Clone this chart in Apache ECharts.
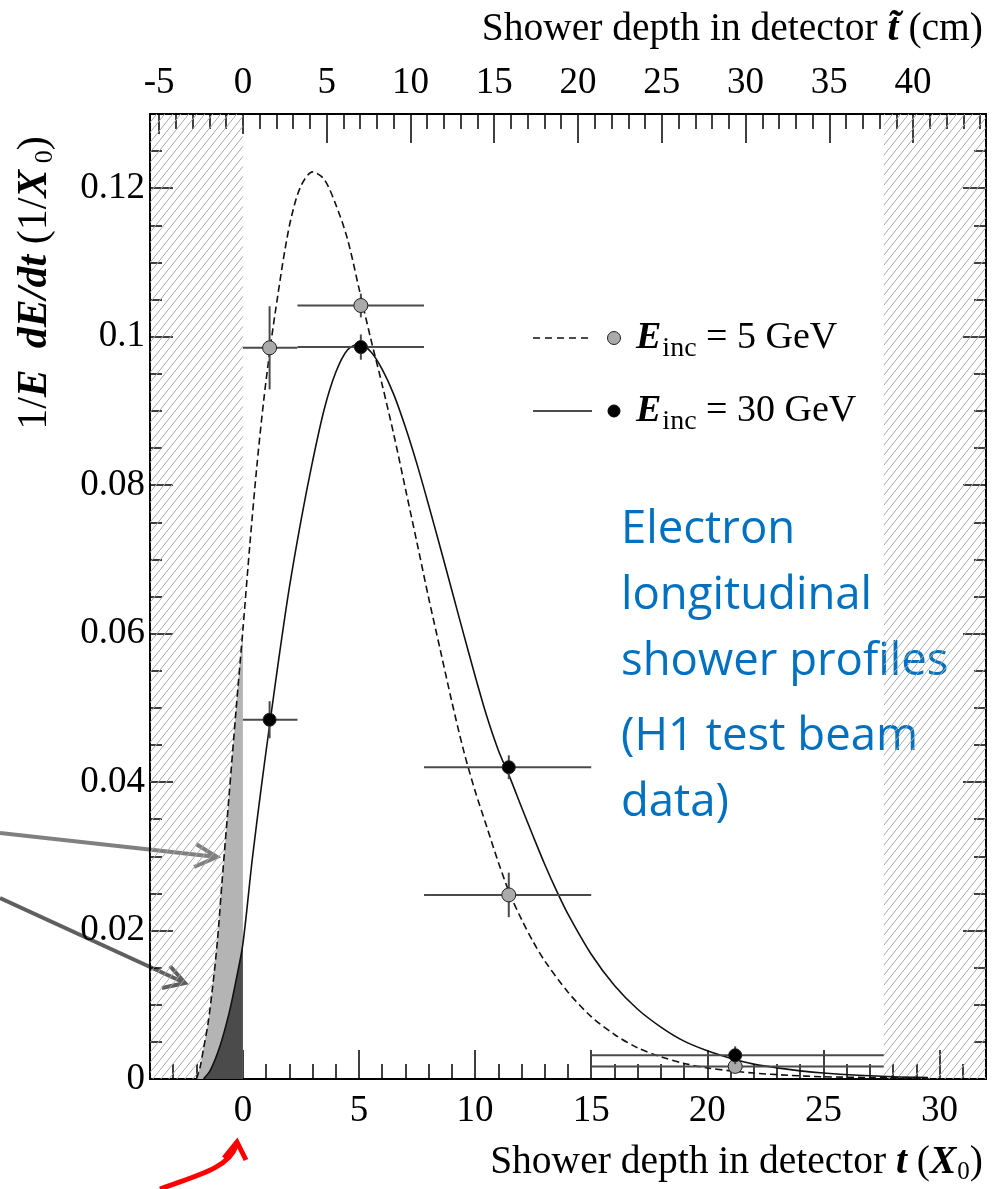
<!DOCTYPE html>
<html>
<head>
<meta charset="utf-8">
<title>Electron longitudinal shower profiles</title>
<script src="https://cdn.jsdelivr.net/npm/echarts@6/dist/echarts.min.js"></script>
<style>
html, body { margin: 0; padding: 0; background: #fff; }
#main { width: 993px; height: 1189px; }
</style>
</head>
<body>
<div id="main"></div>
<script>
// shower depth t (X0) -> 1/E dE/dt
var profile5 = [[-2.0, 0], [-1.85, 0.0015], [-1.7, 0.004], [-1.5, 0.0075], [-1.3, 0.0125], [-1.1, 0.0185],
    [-0.9, 0.0265], [-0.6, 0.038], [-0.3, 0.0495], [0, 0.0605], [0.3, 0.072], [0.6, 0.0825], [0.9, 0.0915],
    [1.2, 0.099], [1.5, 0.1055], [1.8, 0.1115], [2.1, 0.1163], [2.5, 0.1203], [3.0, 0.1222], [3.5, 0.1212],
    [4.0, 0.1178], [4.5, 0.1132], [5.0, 0.1065], [5.5, 0.0998], [6.0, 0.0935], [6.5, 0.0868], [7.0, 0.0795],
    [7.5, 0.0722], [8.0, 0.0648], [8.5, 0.0578], [9.0, 0.0508], [9.5, 0.0443], [10.0, 0.0388], [10.5, 0.034],
    [11.0, 0.0292], [11.5, 0.0249], [12.0, 0.0215], [12.5, 0.0185], [13.0, 0.0159], [14.0, 0.0117],
    [15.0, 0.0084], [16.0, 0.006], [17.0, 0.0042], [18.0, 0.003], [19.0, 0.0021], [20.0, 0.0015],
    [21.0, 0.0011], [22.0, 0.0008], [23.5, 0.0005], [25.0, 0.0003], [27.0, 0.0002], [29.5, 0.0001]];
var profile30 = [[-1.7, 0], [-1.4, 0.0012], [-1.0, 0.0043], [-0.6, 0.0088], [-0.3, 0.0132], [0, 0.0182],
    [0.4, 0.0295], [0.8, 0.0395], [1.2, 0.0488], [1.6, 0.0578], [2.0, 0.0662], [2.5, 0.0752], [3.0, 0.0832],
    [3.5, 0.0902], [4.0, 0.0952], [4.5, 0.0982], [5.0, 0.099], [5.5, 0.098], [6.0, 0.0956], [6.5, 0.0922],
    [7.0, 0.0878], [7.5, 0.0828], [8.0, 0.0773], [8.5, 0.0716], [9.0, 0.0658], [9.5, 0.06], [10.0, 0.0543],
    [10.5, 0.0489], [11.0, 0.0443], [11.5, 0.0406], [12.0, 0.0366], [12.5, 0.0327], [13.0, 0.0289],
    [13.5, 0.0254], [14.0, 0.0222], [15.0, 0.0168], [16.0, 0.0126], [17.0, 0.0094], [18.0, 0.007],
    [19.0, 0.0051], [20.0, 0.0038], [21.0, 0.0028], [22.0, 0.002], [23.0, 0.0015], [24.0, 0.0011],
    [25.0, 0.0008], [26.5, 0.0005], [28.0, 0.0003], [29.5, 0.0002]];

// test beam data points (bins in X0)
var binLo = [0, 2.35, 7.8, 15.0];
var binHi = [2.35, 7.8, 15.0, 27.6];
var pointT = [1.15, 5.08, 11.45, 21.2];
var data5 = [0.0985, 0.1042, 0.0248, 0.0017];
var err5 = [0.0056, 0.0016, 0.003, 0.0008];
var data30 = [0.0484, 0.0986, 0.042, 0.0032];
var err30 = [0.0025, 0.0017, 0.0016, 0.0012];

// dead material zones (hatched)
var deadZones = [[-4, 0], [27.6, 32]];

// axes
var xRange = [-4, 32];
var yRange = [0, 0.13];
var cmPerX0 = 1.386;
var xMajor = [0, 5, 10, 15, 20, 25, 30];
var yMajor = [0, 0.02, 0.04, 0.06, 0.08, 0.1, 0.12];
var cmLabels = [-5, 0, 5, 10, 15, 20, 25, 30, 35, 40];

var serif = "'Liberation Serif', 'Times New Roman', serif";

var xMinor = [], cmMinor = [], yMinor = [];
for (var i = -3; i <= 31; i++) { if (i % 5 !== 0) xMinor.push(i); }
for (var j = -5; j <= 44; j++) { if (j % 5 !== 0) cmMinor.push(j); }
for (var k = 1; k <= 26; k++) { if (k % 4 !== 0) yMinor.push(+(k * 0.005).toFixed(3)); }
var cmLong = cmLabels.filter(function (v) { return v > 0; });
var cmShort = cmLabels.filter(function (v) { return v <= 0; });
var cmRange = [xRange[0] * cmPerX0, xRange[1] * cmPerX0];

function tickAxis(pos, range, ticks, len, showLine, labels, margin) {
    return {
        type: 'value', position: pos, min: range[0], max: range[1],
        axisLine: {show: showLine, onZero: false, lineStyle: {color: '#000', width: 2}},
        axisTick: {show: true, inside: true, length: len, customValues: ticks,
            lineStyle: {color: '#000', width: 1.5}},
        axisLabel: labels ? {show: true, customValues: labels, margin: margin, color: '#000',
            fontSize: 37, fontFamily: serif} : {show: false},
        splitLine: {show: false}
    };
}

function hatchPattern() {
    var w = 8, h = 10;
    var c = document.createElement('canvas');
    c.width = w; c.height = h;
    var ctx = c.getContext('2d');
    ctx.strokeStyle = '#a8a8a8';
    ctx.lineWidth = 1;
    ctx.beginPath();
    ctx.moveTo(-w, 2 * h); ctx.lineTo(2 * w, -h);
    ctx.moveTo(-2 * w, 2 * h); ctx.lineTo(w, -h);
    ctx.moveTo(0, 2 * h); ctx.lineTo(3 * w, -h);
    ctx.stroke();
    return c;
}

function errorSeries(name, vals, errs, fill, radius, z) {
    return {
        name: name, type: 'custom', xAxisIndex: 0, yAxisIndex: 0, z: z,
        data: pointT.map(function (t, i) { return [t, vals[i], binLo[i], binHi[i], errs[i]]; }),
        encode: {x: 0, y: 1},
        renderItem: function (params, api) {
            var t = api.value(0), v = api.value(1), e = api.value(4);
            var pl = api.coord([api.value(2), v]), pr = api.coord([api.value(3), v]);
            var pt = api.coord([t, v + e]), pb = api.coord([t, v - e]), pc = api.coord([t, v]);
            return {
                type: 'group',
                children: [
                    {type: 'line', shape: {x1: pl[0], y1: pl[1], x2: pr[0], y2: pr[1]},
                        style: {stroke: '#4a4a4a', lineWidth: 2}},
                    {type: 'line', shape: {x1: pt[0], y1: pt[1], x2: pb[0], y2: pb[1]},
                        style: {stroke: '#4a4a4a', lineWidth: 2}},
                    {type: 'circle', shape: {cx: pc[0], cy: pc[1], r: radius},
                        style: {fill: fill, stroke: '#222', lineWidth: 1}}
                ]
            };
        }
    };
}

var chart = echarts.init(document.getElementById('main'), null, {renderer: 'canvas'});

var option = {
    animation: false,
    backgroundColor: '#fff',
    grid: {left: 150, top: 114, width: 836, height: 965},
    xAxis: [
        tickAxis('bottom', xRange, xMajor, 29, true, xMajor, 14),
        tickAxis('bottom', xRange, xMinor, 15, false),
        tickAxis('top', cmRange, cmLong, 29, true, cmLabels, 12),
        tickAxis('top', cmRange, cmMinor, 15, false),
        tickAxis('top', cmRange, cmShort, 20, false)
    ],
    yAxis: [
        tickAxis('left', yRange, yMajor, 23, true, yMajor, 5),
        tickAxis('left', yRange, yMinor, 12, false),
        tickAxis('right', yRange, yMajor, 23, true),
        tickAxis('right', yRange, yMinor, 12, false)
    ],
    series: [
        {
            name: 'dead', type: 'line', xAxisIndex: 0, yAxisIndex: 0, data: [], z: 1, silent: true,
            markArea: {
                silent: true,
                itemStyle: {color: {image: hatchPattern(), repeat: 'repeat'}, borderWidth: 0},
                data: deadZones.map(function (d) {
                    return [{xAxis: d[0], yAxis: yRange[0]}, {xAxis: d[1], yAxis: yRange[1]}];
                })
            }
        },
        {
            name: 'fill5', type: 'line', xAxisIndex: 0, yAxisIndex: 0, z: 2, silent: true,
            data: profile5.filter(function (p) { return p[0] <= 0; }),
            symbol: 'none', smooth: 0.3, lineStyle: {width: 0, opacity: 0},
            areaStyle: {color: '#b4b4b4', opacity: 1}
        },
        {
            name: 'fill30', type: 'line', xAxisIndex: 0, yAxisIndex: 0, z: 3, silent: true,
            data: profile30.filter(function (p) { return p[0] <= 0; }),
            symbol: 'none', smooth: 0.3, lineStyle: {width: 0, opacity: 0},
            areaStyle: {color: '#4b4b4b', opacity: 1}
        },
        {
            name: 'E5', type: 'line', xAxisIndex: 0, yAxisIndex: 0, z: 4, data: profile5,
            symbol: 'none', smooth: 0.3, lineStyle: {color: '#111', width: 1.6, type: [7, 4]}
        },
        {
            name: 'E30', type: 'line', xAxisIndex: 0, yAxisIndex: 0, z: 4, data: profile30,
            symbol: 'none', smooth: 0.3, lineStyle: {color: '#111', width: 1.6}
        },
        errorSeries('pts5', data5, err5, '#aaaaaa', 7, 5),
        errorSeries('pts30', data30, err30, '#000000', 6.5, 6)
    ],
    graphic: [
        // axis titles
        {type: 'text', x: 983, y: 30, style: {
            text: '{n|Shower depth in detector }{b|t\u0303}{n| (cm)}',
            align: 'right', textAlign: 'right', verticalAlign: 'middle', textVerticalAlign: 'middle',
            rich: {
                n: {fontFamily: serif, fontSize: 39.5, fill: '#000'},
                b: {fontFamily: serif, fontSize: 39.5, fontWeight: 'bold', fontStyle: 'italic', fill: '#000'}
            }
        }},
        {type: 'text', x: 983, y: 1163, style: {
            text: '{n|Shower depth in detector }{b|t}{n| (}{b|X}{s|0}{n|)}',
            align: 'right', textAlign: 'right', verticalAlign: 'middle', textVerticalAlign: 'middle',
            rich: {
                n: {fontFamily: serif, fontSize: 39.5, fill: '#000'},
                b: {fontFamily: serif, fontSize: 39.5, fontWeight: 'bold', fontStyle: 'italic', fill: '#000'},
                s: {fontFamily: serif, fontSize: 25, fill: '#000', padding: [18, 0, 0, 1]}
            }
        }},
        {type: 'text', x: 35, y: 283, rotation: Math.PI / 2, style: {
            text: '{n|1/}{b|E  dE/dt}{n| (1/}{b|X}{s| 0}{n|)}',
            align: 'center', textAlign: 'center', verticalAlign: 'middle', textVerticalAlign: 'middle',
            rich: {
                n: {fontFamily: serif, fontSize: 42, fill: '#000'},
                b: {fontFamily: serif, fontSize: 42, fontWeight: 'bold', fontStyle: 'italic', fill: '#000'},
                s: {fontFamily: serif, fontSize: 26, fill: '#000', padding: [20, 0, 0, 0]}
            }
        }},
        // legend
        {type: 'line', shape: {x1: 533, y1: 338, x2: 592, y2: 338},
            style: {stroke: '#111', lineWidth: 1.6, lineDash: [7, 5]}},
        {type: 'circle', shape: {cx: 614, cy: 338, r: 6.5}, style: {fill: '#aaaaaa', stroke: '#222', lineWidth: 1}},
        {type: 'text', x: 636, y: 338, style: {
            text: '{e|E}{s|inc}{n| = 5 GeV}', verticalAlign: 'middle', textVerticalAlign: 'middle',
            rich: {
                e: {fontFamily: serif, fontSize: 38, fontWeight: 'bold', fontStyle: 'italic', fill: '#000'},
                s: {fontFamily: serif, fontSize: 28, fill: '#000', padding: [22, 0, 0, 1]},
                n: {fontFamily: serif, fontSize: 38, fill: '#000'}
            }
        }},
        {type: 'line', shape: {x1: 533, y1: 411, x2: 592, y2: 411}, style: {stroke: '#111', lineWidth: 1.6}},
        {type: 'circle', shape: {cx: 614, cy: 411, r: 6}, style: {fill: '#000', stroke: '#000', lineWidth: 1}},
        {type: 'text', x: 636, y: 411, style: {
            text: '{e|E}{s|inc}{n| = 30 GeV}', verticalAlign: 'middle', textVerticalAlign: 'middle',
            rich: {
                e: {fontFamily: serif, fontSize: 38, fontWeight: 'bold', fontStyle: 'italic', fill: '#000'},
                s: {fontFamily: serif, fontSize: 28, fill: '#000', padding: [22, 0, 0, 1]},
                n: {fontFamily: serif, fontSize: 38, fill: '#000'}
            }
        }},
        // blue annotation
        {type: 'text', x: 621, y: 497, style: {
            text: 'Electron\nlongitudinal\nshower profiles', fill: '#0070c0',
            fontFamily: "'Open Sans', sans-serif", fontSize: 45.5, lineHeight: 66,
            verticalAlign: 'top', textVerticalAlign: 'top'
        }},
        {type: 'text', x: 621, y: 704, style: {
            text: '(H1 test beam\ndata)', fill: '#0070c0',
            fontFamily: "'Open Sans', sans-serif", fontSize: 45.5, lineHeight: 66,
            verticalAlign: 'top', textVerticalAlign: 'top'
        }},
        // grey arrows
        {type: 'polyline', shape: {points: [[0, 833], [217, 857]]}, style: {stroke: '#808080', lineWidth: 4}},
        {type: 'polyline', shape: {points: [[196, 844], [217, 857], [194, 867]]},
            style: {stroke: '#808080', lineWidth: 4, fill: null}},
        {type: 'polyline', shape: {points: [[0, 898], [185, 983]]}, style: {stroke: '#5f5f5f', lineWidth: 4}},
        {type: 'polyline', shape: {points: [[170, 966], [185, 983], [162, 988]]},
            style: {stroke: '#5f5f5f', lineWidth: 4, fill: null}},
        // red arrow
        {type: 'bezierCurve', shape: {x1: 160, y1: 1189, cpx1: 195, cpy1: 1176, cpx2: 229, cpy2: 1168, x2: 236, y2: 1146},
            style: {stroke: '#ff0000', lineWidth: 5, fill: null}},
        {type: 'polyline', shape: {points: [[224, 1158], [237, 1142], [246, 1160]]},
            style: {stroke: '#ff0000', lineWidth: 5, fill: null}}
    ]
};

chart.setOption(option);
</script>
</body>
</html>
